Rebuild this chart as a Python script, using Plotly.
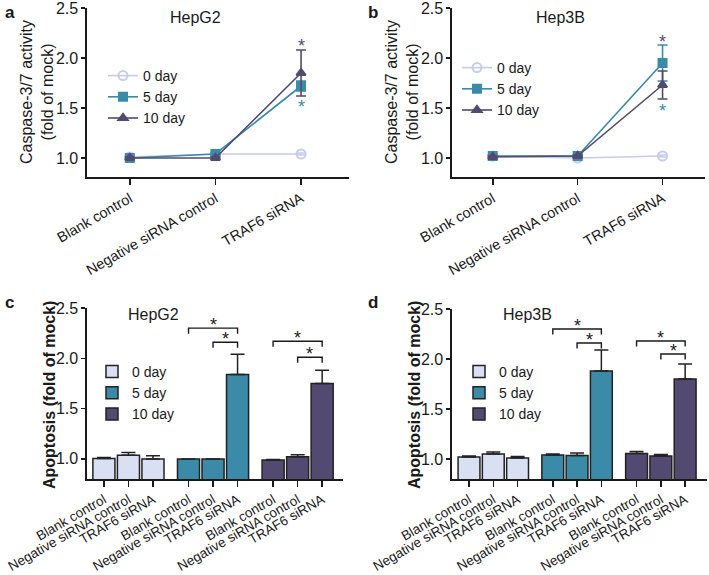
import plotly.graph_objects as go

W, H = 709, 575
FONT = "Liberation Sans, Arial, sans-serif"

# ---------------- data ----------------
line_categories = ["Blank control", "Negative siRNA control", "TRAF6 siRNA"]
days = ["0 day", "5 day", "10 day"]

# Caspase-3/7 activity (fold of mock)
hepg2_casp = {
    "0 day": [1.01, 1.04, 1.04],
    "5 day": [1.00, 1.04, 1.72],
    "10 day": [1.00, 1.00, 1.85],
}
hepg2_casp_err = {
    "0 day": [0.01, 0.01, 0.01],
    "5 day": [0.01, 0.01, 0.05],
    "10 day": [0.01, 0.01, 0.23],
}
hep3b_casp = {
    "0 day": [1.02, 1.00, 1.02],
    "5 day": [1.02, 1.02, 1.95],
    "10 day": [1.01, 1.02, 1.73],
}
hep3b_casp_err = {
    "0 day": [0.01, 0.01, 0.01],
    "5 day": [0.01, 0.01, 0.18],
    "10 day": [0.01, 0.01, 0.14],
}
# star annotations on line panels: (day, value)
hepg2_line_stars = [("10 day", 2.16), ("5 day", 1.55)]
hep3b_line_stars = [("10 day", 2.20), ("5 day", 1.51)]

# Apoptosis (fold of mock)
hepg2_apop = {
    "0 day": [1.005, 1.035, 1.00],
    "5 day": [1.00, 1.00, 1.84],
    "10 day": [0.99, 1.02, 1.75],
}
hepg2_apop_err = {
    "0 day": [0.008, 0.028, 0.03],
    "5 day": [0.0, 0.0, 0.20],
    "10 day": [0.005, 0.02, 0.13],
}
hep3b_apop = {
    "0 day": [1.02, 1.05, 1.01],
    "5 day": [1.04, 1.035, 1.88],
    "10 day": [1.055, 1.03, 1.80],
}
hep3b_apop_err = {
    "0 day": [0.01, 0.02, 0.015],
    "5 day": [0.01, 0.025, 0.21],
    "10 day": [0.02, 0.015, 0.15],
}
# significance brackets: (group, from bar, to bar, height)
hepg2_brackets = [(1, 0, 2, 2.30), (1, 1, 2, 2.16), (2, 0, 2, 2.17), (2, 1, 2, 2.01)]
hep3b_brackets = [(1, 0, 2, 2.30), (1, 1, 2, 2.16), (2, 0, 2, 2.18), (2, 1, 2, 2.05)]

yticks = [1.0, 1.5, 2.0, 2.5]
ytick_text = ["1.0", "1.5", "2.0", "2.5"]

# ---------------- style ----------------
fill = {"0 day": "#d9e0f4", "5 day": "#3a8aa8", "10 day": "#524a70"}
linecol = {"0 day": "#c6cdea", "5 day": "#3a8aa8", "10 day": "#524a70"}
symbols = {"0 day": "circle-open", "5 day": "square", "10 day": "triangle-up"}
GROUP_STEP = 3.45


def bar_pos(g, i):
    return g * GROUP_STEP + i


def px_x(p):
    return p / W


def px_y(p):
    return 1 - p / H


fig = go.Figure()

panels = {
    "a": dict(xa="x", ya="y", leg="legend", dom_x=(87, 349), dom_y=(8, 177), xr=[-0.5, 2.56], yr=[0.81, 2.5]),
    "b": dict(xa="x2", ya="y2", leg="legend2", dom_x=(452, 705), dom_y=(8, 177), xr=[-0.48, 2.5], yr=[0.81, 2.5]),
    "c": dict(xa="x3", ya="y3", leg="legend3", dom_x=(87, 343), dom_y=(308, 479), xr=[-0.69, 9.75], yr=[0.8, 2.5]),
    "d": dict(xa="x4", ya="y4", leg="legend4", dom_x=(452, 707), dom_y=(309, 479), xr=[-0.7, 9.8], yr=[0.8, 2.5]),
}

# line panels
for key, vals, errs in [("a", hepg2_casp, hepg2_casp_err), ("b", hep3b_casp, hep3b_casp_err)]:
    p = panels[key]
    for d in days:
        fig.add_trace(go.Scatter(
            x=list(range(len(line_categories))), y=vals[d], name=d,
            mode="lines+markers", xaxis=p["xa"], yaxis=p["ya"], legend=p["leg"],
            line=dict(color=linecol[d], width=1.6),
            marker=dict(symbol=symbols[d], size=8 if d != "0 day" else 9,
                        color=linecol[d], line=dict(color=linecol[d], width=2)),
            error_y=dict(type="data", array=errs[d], color=linecol[d], thickness=1.6, width=5),
            cliponaxis=False,
        ))

# bar panels
for key, vals, errs in [("c", hepg2_apop, hepg2_apop_err), ("d", hep3b_apop, hep3b_apop_err)]:
    p = panels[key]
    for g, d in enumerate(days):
        fig.add_trace(go.Bar(
            x=[bar_pos(g, i) for i in range(3)], y=vals[d], name=d,
            xaxis=p["xa"], yaxis=p["ya"], legend=p["leg"], width=0.9,
            marker=dict(color=fill[d], line=dict(color="#222222", width=1.5)),
            error_y=dict(type="data", array=errs[d], arrayminus=[0, 0, 0], symmetric=False,
                         color="#222222", thickness=1.5, width=7),
        ))

layout = dict(
    width=W, height=H, margin=dict(l=0, r=0, t=0, b=0, autoexpand=False),
    template="none",
    plot_bgcolor="white", paper_bgcolor="white",
    font=dict(family=FONT, color="#1a1a1a"),
    barmode="overlay", showlegend=True,
)

axis_common = dict(showline=True, linecolor="#1a1a1a", linewidth=1.6, ticks="outside",
                   tickcolor="#1a1a1a", tickwidth=1.5, showgrid=False, zeroline=False,
                   automargin=False, ticklabeloverflow="allow")

for key, p in panels.items():
    xn = "xaxis" + p["xa"][1:]
    yn = "yaxis" + p["ya"][1:]
    if key in ("a", "b"):
        tv = list(range(len(line_categories)))
        tt = line_categories
        tfs = 14.5
    else:
        tv = [bar_pos(g, i) for g in range(3) for i in range(3)]
        tt = line_categories * 3
        tfs = 13.5
    layout[xn] = dict(axis_common, domain=[px_x(p["dom_x"][0]), px_x(p["dom_x"][1])],
                      range=p["xr"], tickvals=tv, ticktext=tt, tickangle=-30, ticklen=6,
                      tickfont=dict(size=tfs, family=FONT), anchor=p["ya"], fixedrange=True)
    layout[yn] = dict(axis_common, domain=[px_y(p["dom_y"][1]), px_y(p["dom_y"][0])],
                      range=p["yr"], tickvals=yticks, ticktext=ytick_text, ticklen=4,
                      tickfont=dict(size=16, family=FONT), anchor=p["xa"], fixedrange=True)

legend_pos = {"legend": (103, 60), "legend2": (457, 52), "legend3": (92, 356), "legend4": (459, 356)}
for ln, (lx, ly) in legend_pos.items():
    layout[ln] = dict(x=px_x(lx), y=px_y(ly), xanchor="left", yanchor="top",
                      font=dict(size=14, family=FONT), bgcolor="rgba(0,0,0,0)",
                      itemwidth=30, tracegroupgap=0)

fig.update_layout(**layout)

ann = []
# panel letters
for letter, (lx, ly) in {"a": (3, 1), "b": (366, 1), "c": (3, 291), "d": (366, 291)}.items():
    ann.append(dict(text="<b>%s</b>" % letter, x=px_x(lx), y=px_y(ly), xref="paper", yref="paper",
                    xanchor="left", yanchor="top", showarrow=False, font=dict(size=17, family=FONT)))
# panel titles
for txt, (tx, ty) in {"HepG2": (195, 17), "Hep3B": (560, 17)}.items():
    ann.append(dict(text=txt, x=px_x(tx), y=px_y(ty), xref="paper", yref="paper",
                    xanchor="center", yanchor="middle", showarrow=False, font=dict(size=16, family=FONT)))
for txt, (tx, ty) in {"HepG2": (153, 315), "Hep3B": (527, 315)}.items():
    ann.append(dict(text=txt, x=px_x(tx), y=px_y(ty), xref="paper", yref="paper",
                    xanchor="center", yanchor="middle", showarrow=False, font=dict(size=16, family=FONT)))
# y-axis titles
for ax_x, ax_y in [(37, 92), (402, 92)]:
    ann.append(dict(text="Caspase-3/7 activity<br>(fold of mock)", x=px_x(ax_x), y=px_y(ax_y),
                    xref="paper", yref="paper", textangle=-90, showarrow=False,
                    xanchor="center", yanchor="middle", font=dict(size=16, family=FONT)))
for ax_x, ax_y in [(49, 395), (414, 395)]:
    ann.append(dict(text="<b>Apoptosis (fold of mock)</b>", x=px_x(ax_x), y=px_y(ax_y),
                    xref="paper", yref="paper", textangle=-90, showarrow=False,
                    xanchor="center", yanchor="middle", font=dict(size=16, family=FONT)))
# stars on line panels
for key, stars in [("a", hepg2_line_stars), ("b", hep3b_line_stars)]:
    p = panels[key]
    for d, yv in stars:
        ann.append(dict(text="*", x=2, y=yv, xref=p["xa"], yref=p["ya"], showarrow=False,
                        yanchor="middle", yshift=-4, font=dict(size=18, color=linecol[d], family=FONT)))

shapes = []
for key, brs in [("c", hepg2_brackets), ("d", hep3b_brackets)]:
    p = panels[key]
    for g, i0, i1, h in brs:
        x0, x1 = bar_pos(g, i0), bar_pos(g, i1)
        leg = 0.055
        shapes.append(dict(type="path", xref=p["xa"], yref=p["ya"],
                           path="M %f,%f L %f,%f L %f,%f L %f,%f" % (x0, h - leg, x0, h, x1, h, x1, h - leg),
                           line=dict(color="#1a1a1a", width=1.4)))
        ann.append(dict(text="*", x=(x0 + x1) / 2, y=h + 0.07, xref=p["xa"], yref=p["ya"], showarrow=False,
                        yanchor="middle", yshift=-4, font=dict(size=18, color="#1a1a1a", family=FONT)))

fig.update_layout(annotations=ann, shapes=shapes)
# remove the browser's default 8px body margin so the figure fills the window
fig.write_html("out.html",
               config={"displayModeBar": False, "staticPlot": True},
               post_script="document.body.style.margin='0';document.body.style.padding='0';")
